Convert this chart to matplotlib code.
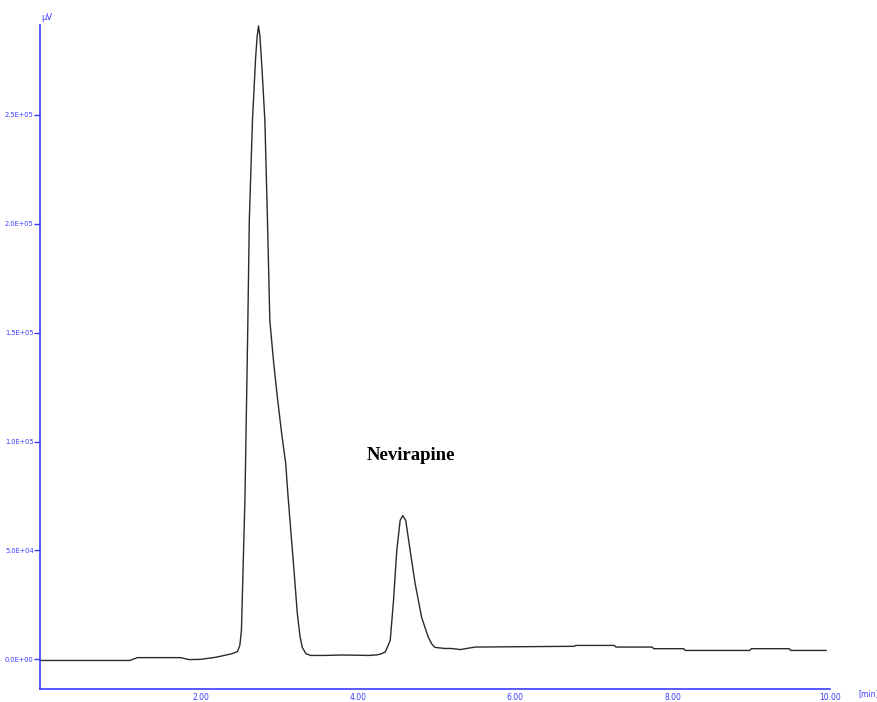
import matplotlib
matplotlib.use('Agg')
from matplotlib import pyplot as plt
from matplotlib.ticker import FuncFormatter

# Chromatogram trace (time in min, signal in uV)
time_min = [-0.04, 0.50, 1.10, 1.20, 1.75, 1.85, 2.00, 2.20, 2.30, 2.40,
            2.47, 2.50, 2.52, 2.565, 2.60, 2.62, 2.66, 2.70, 2.72, 2.737,
            2.755, 2.78, 2.818, 2.851, 2.881, 2.93, 2.977, 3.03, 3.083, 3.11,
            3.147, 3.19, 3.23, 3.265, 3.293, 3.34, 3.40, 3.57, 3.80, 4.00,
            4.137, 4.25, 4.30, 4.348, 4.411, 4.453, 4.494, 4.537, 4.570, 4.608,
            4.664, 4.727, 4.810, 4.895, 4.940, 4.980, 5.106, 5.19, 5.30, 5.49,
            6.00, 6.75, 6.77, 7.26, 7.28, 7.74, 7.76, 8.14, 8.16, 8.98,
            9.00, 9.48, 9.50, 9.95]
signal_uv = [-500, -500, -500, 800, 800, -100, 0, 1000, 1800, 2600,
             3600, 6500, 13300, 74300, 150900, 201400, 247200, 276000, 286000, 290800,
             286000, 272000, 247200, 201400, 155500, 136000, 120200, 104000, 89900, 76000,
             59200, 40000, 21100, 10500, 5500, 2600, 1800, 1800, 2000, 1900,
             1800, 2100, 2600, 3400, 8700, 27100, 50000, 63800, 66000, 63800,
             50000, 34900, 19300, 10100, 7000, 5500, 5000, 5000, 4500, 5650,
             5800, 6000, 6400, 6400, 5650, 5650, 4900, 4900, 4100, 4100,
             4900, 4900, 4100, 4100]

y_ticks = [0, 50000, 100000, 150000, 200000, 250000]
x_ticks = [2, 4, 6, 8, 10]

blue = '#3b3bff'

fig = plt.figure(figsize=(8.78, 7.02), dpi=100)
ax = fig.add_axes([40 / 878, 1 - 689 / 702, 790 / 878, 664 / 702])

ax.plot(time_min, signal_uv, color='#2a2a2a', linewidth=1.0, clip_on=False)

ax.set_xlim(-0.04, 10.0)
ax.set_ylim(-13600, 291200)

ax.set_xticks(x_ticks)
ax.set_yticks(y_ticks)
ax.xaxis.set_major_formatter(FuncFormatter(lambda v, p: f'{v:.2f}'))
ax.yaxis.set_major_formatter(FuncFormatter(lambda v, p: f'{v:.1E}'))
ax.tick_params(axis='x', length=0, pad=3, labelsize=5.5, labelcolor=blue)
ax.tick_params(axis='y', length=4, width=1, color=blue, pad=0.5, labelsize=4.8, labelcolor=blue)

for side in ['top', 'right']:
    ax.spines[side].set_visible(False)
for side in ['left', 'bottom']:
    ax.spines[side].set_color(blue)
    ax.spines[side].set_linewidth(1.2)

fig.text(41 / 878, 1 - 18 / 702, '\u03bcV', color=blue, fontsize=6, va='center', ha='left')
fig.text(858 / 878, 1 - 694 / 702, '[min]', color=blue, fontsize=5.5, va='center', ha='left')

ax.text(4.67, 93600, 'Nevirapine', fontsize=13.5, fontweight='bold',
        family='Liberation Serif', ha='center', va='center')

fig.savefig('out.png', dpi=100)
